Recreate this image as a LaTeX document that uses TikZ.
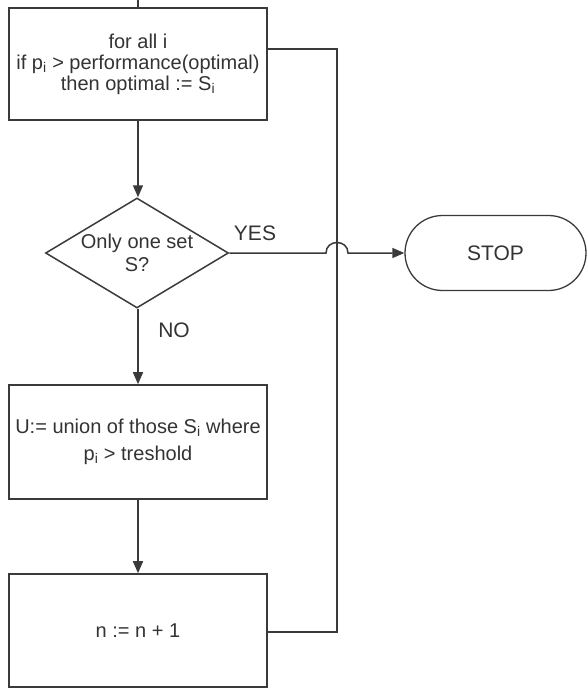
\documentclass[tikz,border=0pt]{standalone}
\usepackage{fontspec}
\setmainfont{Liberation Sans}
\usetikzlibrary{shapes.geometric,shapes.misc,arrows.meta}
\definecolor{ln}{HTML}{3A3A3A}
\definecolor{tx}{HTML}{333333}
\begin{document}
\begin{tikzpicture}[x=1pt,y=-1pt,
  every node/.style={text=tx,font=\fontsize{20}{20}\selectfont},
  box/.style={draw=ln,line width=1.6pt,rectangle,minimum width=258pt,align=center,inner sep=0pt},
  dia/.style={draw=ln,line width=1.5pt,diamond,minimum width=183pt,minimum height=110pt,inner sep=0pt},
  stopbox/.style={draw=ln,line width=1.3pt,rounded rectangle,minimum width=181pt,minimum height=75pt,inner sep=0pt,font=\fontsize{21}{21}\selectfont},
  con/.style={draw=ln,line width=1.5pt},
  arr/.style={con,-{Triangle[length=12pt,width=10pt]}},
  lbl/.style={inner sep=0pt,font=\fontsize{21}{21}\selectfont}]
\useasboundingbox (0,0) rectangle (588,689);
\node[box,minimum height=112pt] (b1) at (138,64) {for all i\\[1pt]if p\textsubscript{i} > performance(optimal)\\[1pt]then optimal := S\textsubscript{i}};
\node[dia] (d) at (137,253) {};
\node[inner sep=0pt,align=center] (dt) at (137,253) {Only one set\\[3pt]S?};
\node[box,minimum height=114pt] (b2) at (138,442) {U:= union of those S\textsubscript{i} where\\[7pt]p\textsubscript{i} > treshold};
\node[box,minimum height=113pt] (b3) at (138,630.5) {n := n + 1};
\node[stopbox] (stop) at (495.5,253) {STOP};
\node[lbl] (yes) at (255,233) {YES};
\node[lbl] (no) at (174,330) {NO};
\coordinate (in) at (138,0);
\coordinate (rt) at (337,49);
\coordinate (rb) at (337,632);
\coordinate (j1) at (326,253);
\coordinate (j2) at (348,253);
\draw[con] (in) -- (b1.north);
\draw[arr] (b1.south) -- (b1.south |- d.north);
\draw[arr] (b1.south |- d.south) -- (b2.north);
\draw[arr] (b2.south) -- (b3.north);
\draw[con] (b3.east |- rb) -- (rb) -- (rt) -- (b1.east |- rt);
\draw[arr] (d.east) -- (j1) .. controls (326,239) and (348,239) .. (j2) -- (stop.west);
\end{tikzpicture}
\end{document}
